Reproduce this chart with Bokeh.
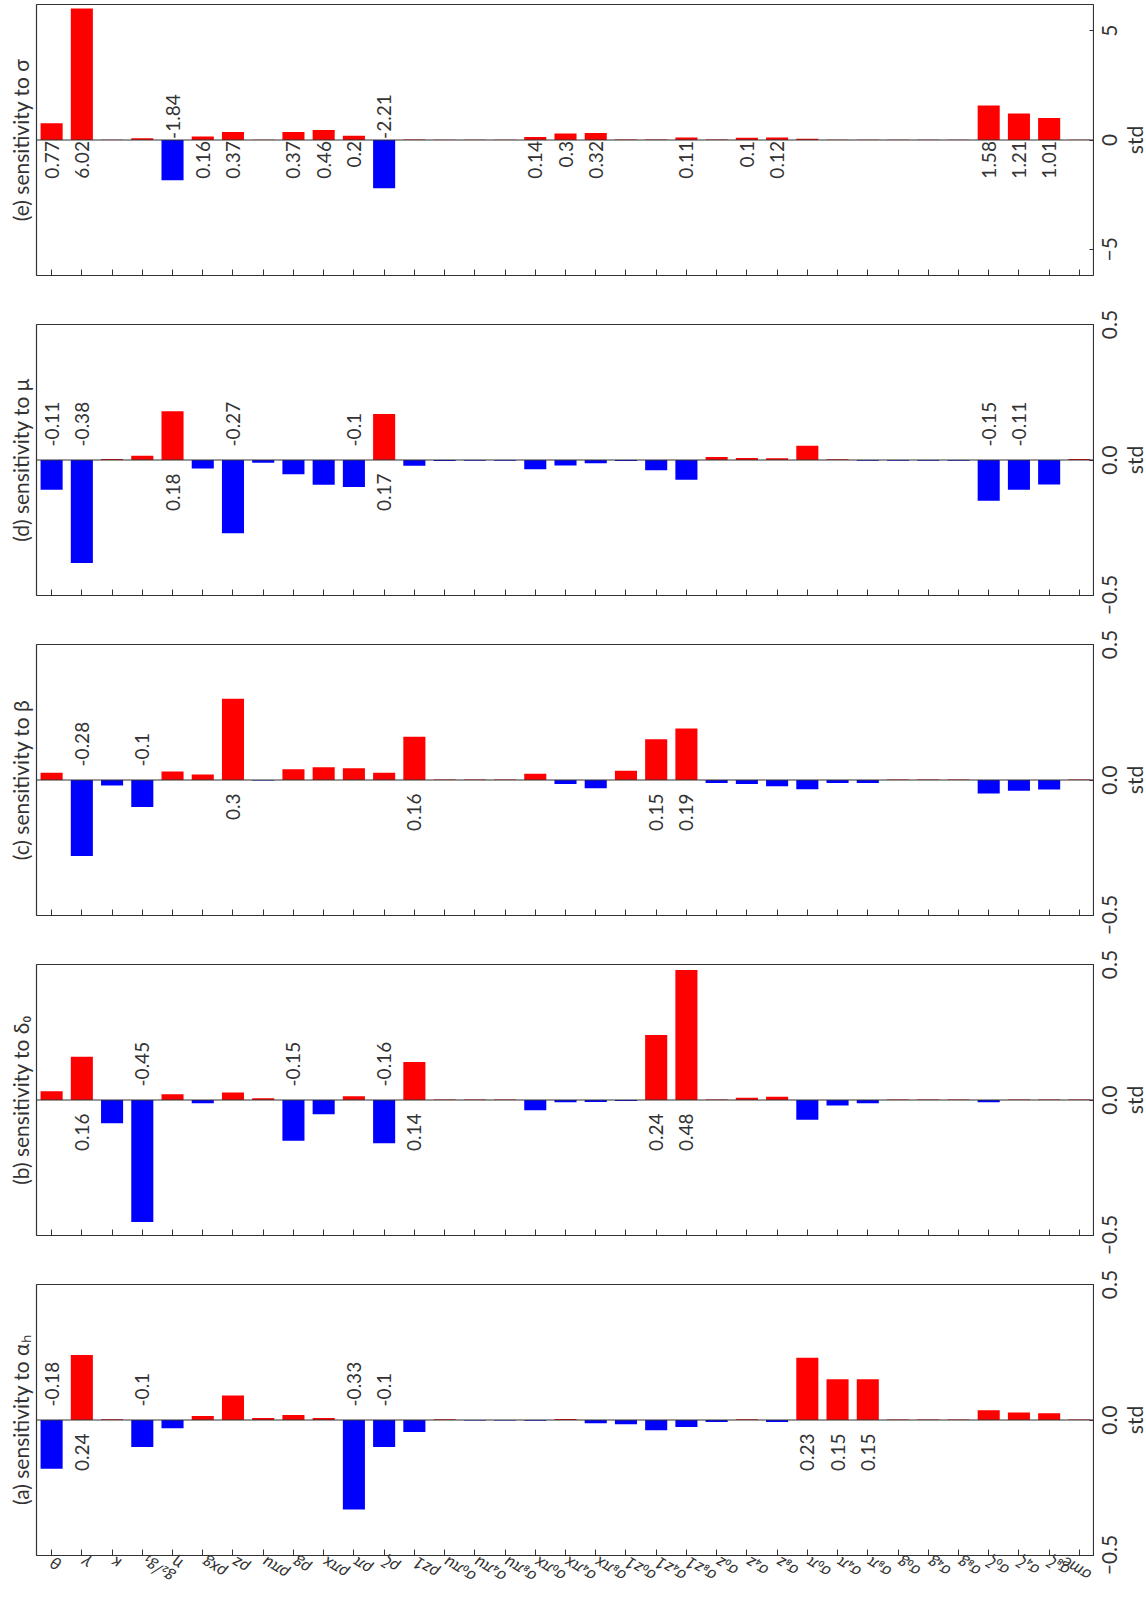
import math
from bokeh.plotting import figure
from bokeh.models import LinearAxis, FixedTicker, Span, Range1d, ColumnDataSource
from bokeh.layouts import column, row
from bokeh.embed import file_html
from bokeh.resources import INLINE
from bokeh.core.properties import value

# model parameters along the category axis
params = ["θ", "γ", "κ", "g₂/g₁", "η", "ρxg", "ρz", "ρπu", "ρg", "ρπx", "ρπ", "ρζ", "ρz1",
          "σ₀πu", "σ₄πu", "σ₈πu", "σ₀πx", "σ₄πx", "σ₈πx", "σ₀z1", "σ₄z1", "σ₈z1",
          "σ₀z", "σ₄z", "σ₈z", "σ₀π", "σ₄π", "σ₈π", "σ₀g", "σ₄g", "σ₈g",
          "σ₀ζ", "σ₄ζ", "σ₈ζ", "σme"]

# sensitivities (in std units) of each estimated moment
sens_sigma = [0.77, 6.02, 0.01, 0.08, -1.84, 0.16, 0.37, 0.01, 0.37, 0.46, 0.2, -2.21, 0.02,
              0.01, 0.01, 0.01, 0.14, 0.3, 0.32, 0.02, 0.02, 0.11, 0.02, 0.1, 0.12,
              0.06, 0.01, 0.01, 0.01, 0.01, 0.01, 1.58, 1.21, 1.01, 0.01]
sens_mu = [-0.11, -0.38, 0.004, 0.016, 0.18, -0.031, -0.27, -0.01, -0.053, -0.091, -0.1, 0.17, -0.021,
           -0.004, -0.003, -0.003, -0.034, -0.02, -0.012, -0.004, -0.038, -0.073, 0.011, 0.007, 0.006,
           0.053, 0.003, -0.003, -0.003, -0.003, -0.003, -0.15, -0.11, -0.09, 0.004]
sens_beta = [0.027, -0.28, -0.02, -0.1, 0.031, 0.02, 0.3, -0.002, 0.04, 0.047, 0.043, 0.027, 0.16,
             0.002, 0.002, 0.002, 0.023, -0.015, -0.03, 0.034, 0.15, 0.19, -0.011, -0.015, -0.023,
             -0.034, -0.011, -0.011, 0.002, 0.002, 0.002, -0.05, -0.04, -0.035, 0.002]
sens_delta0 = [0.032, 0.16, -0.086, -0.45, 0.021, -0.012, 0.028, 0.006, -0.15, -0.053, 0.014, -0.16, 0.14,
               0.002, 0.002, 0.002, -0.038, -0.008, -0.007, -0.004, 0.24, 0.48, 0.002, 0.008, 0.012,
               -0.073, -0.02, -0.012, 0.002, 0.002, 0.002, -0.008, 0.002, 0.002, 0.002]
sens_alpha_h = [-0.18, 0.24, 0.003, -0.1, -0.03, 0.015, 0.09, 0.007, 0.018, 0.007, -0.33, -0.1, -0.044,
                0.003, -0.002, -0.002, -0.003, 0.004, -0.012, -0.016, -0.038, -0.026, -0.007, 0.003, -0.007,
                0.23, 0.15, 0.15, 0.002, 0.002, 0.002, 0.036, 0.028, 0.025, 0.002]

titles = ["(e) sensitivity to σ", "(d) sensitivity to μ", "(c) sensitivity to β",
          "(b) sensitivity to δ₀", "(a) sensitivity to αₕ"]
series = [sens_sigma, sens_mu, sens_beta, sens_delta0, sens_alpha_h]
limits = [6.2, 0.5, 0.5, 0.5, 0.5]
std_ticks = [[-5, 0, 5], [-0.5, 0, 0.5], [-0.5, 0, 0.5], [-0.5, 0, 0.5], [-0.5, 0, 0.5]]
std_tick_text = [["−5", "0", "5"]] + [["−0.5", "0.0", "0.5"]] * 4

FONT = "Lato"
INK = "#333333"
RED = "#ff0000"
BLUE = "#0000ff"

FRAME_W, FRAME_H = 1058, 271
SIDE_W = 52           # strip right of each panel holding the std scale texts
TICK_TEXT_X, STD_X = 15, 40


def make_panel(title, vals, lim, ticks, last, top, bottom):
    n = len(params)
    xs = list(range(n))
    p = figure(frame_width=FRAME_W, frame_height=FRAME_H,
               x_range=Range1d(-0.5, n - 0.5), y_range=Range1d(-lim, lim),
               y_axis_location="right", toolbar_location=None, output_backend="svg",
               min_border_left=36, min_border_right=0, min_border_top=top,
               min_border_bottom=bottom)
    p.frame_align = False
    p.grid.visible = False
    p.outline_line_color = INK
    p.outline_line_width = 1.2

    colors = [RED if v >= 0 else BLUE for v in vals]
    src = ColumnDataSource(dict(x=xs, top=vals, color=colors))
    p.vbar(x="x", top="top", bottom=0, width=0.73, fill_color="color",
           line_color=None, source=src)
    p.add_layout(Span(location=0, dimension="width", line_color=INK, line_width=1.2))

    # value annotations on the opposite side of the zero line
    off = 0.05
    pos = [(i, v) for i, v in enumerate(vals) if v >= 0.1]
    neg = [(i, v) for i, v in enumerate(vals) if v <= -0.1]
    for group, y0, align in ((pos, -off, "right"), (neg, off, "left")):
        if not group:
            continue
        p.text(x=[i for i, _ in group], y=[y0] * len(group),
               text=[f"{round(v, 2):g}" for _, v in group],
               angle=math.pi / 2, text_align=align, text_baseline="middle",
               text_font=value(FONT), text_font_size="19px", text_color=INK)

    # inward std ticks on the right edge
    ax = p.yaxis[0]
    ax.ticker = FixedTicker(ticks=ticks)
    ax.major_label_overrides = {t: "" for t in ticks}
    ax.major_label_text_font_size = "0px"
    ax.major_label_standoff = 0
    ax.major_tick_in = 5
    ax.major_tick_out = 0
    ax.major_tick_line_color = INK
    ax.minor_tick_line_color = None
    ax.axis_line_color = None

    # parameter axis at the bottom
    bx = p.xaxis[0]
    bx.ticker = FixedTicker(ticks=xs)
    bx.major_tick_in = 6
    bx.major_tick_out = 0
    bx.major_tick_line_color = INK
    bx.minor_tick_line_color = None
    bx.axis_line_color = None
    if last:
        bx.major_label_overrides = {i: s for i, s in enumerate(params)}
        bx.major_label_orientation = 2.6
        bx.major_label_text_font = FONT
        bx.major_label_text_font_size = "17px"
        bx.major_label_text_font_style = "italic"
        bx.major_label_text_color = INK
        bx.major_label_standoff = 6
    else:
        bx.major_label_overrides = {i: "" for i in xs}

    # panel title on the left
    la = LinearAxis(ticker=FixedTicker(ticks=[]), axis_label=title,
                    axis_line_color=None, major_tick_line_color=None,
                    minor_tick_line_color=None)
    la.axis_label_text_font = FONT
    la.axis_label_text_font_size = "21px"
    la.axis_label_text_font_style = "normal"
    la.axis_label_text_color = INK
    la.axis_label_standoff = 4
    p.add_layout(la, "left")
    return p


def make_scale(lim, ticks, tick_text, top, bottom, pad):
    # same data-per-pixel as the panel, extended by `pad` pixels above and below
    per_px = 2 * lim / FRAME_H
    s = figure(frame_width=SIDE_W, frame_height=FRAME_H + 2 * pad,
               x_range=Range1d(0, SIDE_W),
               y_range=Range1d(-lim - pad * per_px, lim + pad * per_px),
               x_axis_location=None, y_axis_location=None,
               toolbar_location=None, output_backend="svg",
               min_border_left=0, min_border_right=0,
               min_border_top=top - pad, min_border_bottom=bottom - pad)
    s.frame_align = False
    s.grid.visible = False
    s.outline_line_color = None
    s.text(x=[TICK_TEXT_X] * len(ticks), y=ticks, text=tick_text,
           angle=math.pi / 2, text_align="center", text_baseline="middle",
           text_font=value(FONT), text_font_size="21px", text_color=INK)
    s.text(x=[STD_X], y=[0], text=["std"],
           angle=math.pi / 2, text_align="center", text_baseline="middle",
           text_font=value(FONT), text_font_size="21px", text_color=INK)
    return s


rows = []
for i, (t, s, l, tk, tt) in enumerate(zip(titles, series, limits, std_ticks, std_tick_text)):
    first, last = i == 0, i == len(titles) - 1
    top = 4 if first else 20
    bottom = 64 if last else 29
    pad = 4 if first else 18
    rows.append(row(make_panel(t, s, l, tk, last, top, bottom),
                    make_scale(l, tk, tt, top, bottom, pad)))
layout = column(*rows)

open("out.html", "w").write(file_html(layout, INLINE))
